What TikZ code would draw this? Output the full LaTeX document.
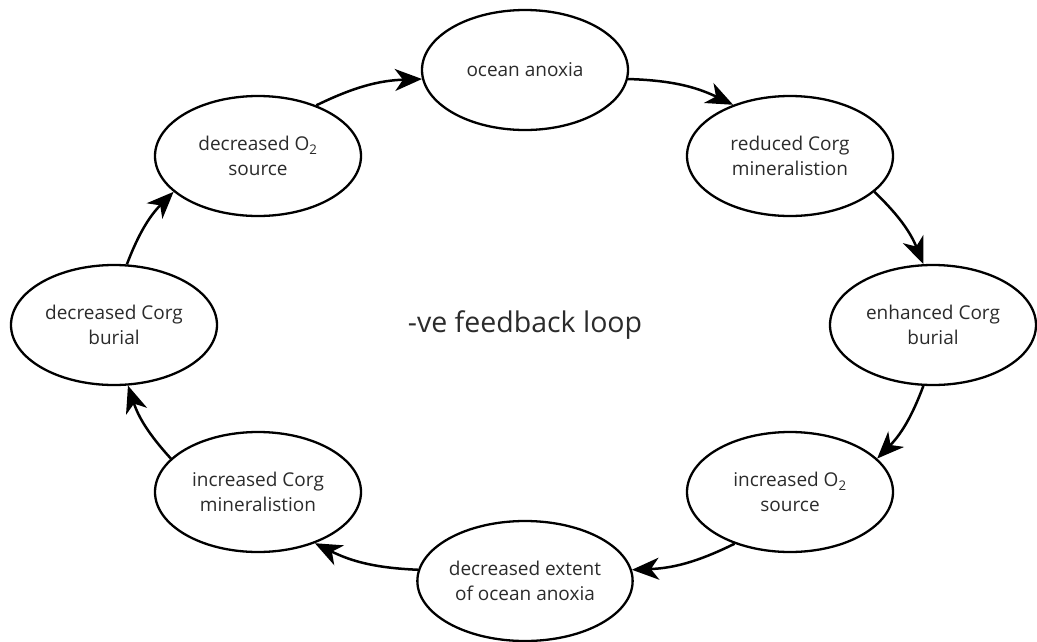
\documentclass[tikz,border=0pt]{standalone}
\usepackage{fontspec}
\setmainfont{Open Sans}
\usetikzlibrary{arrows.meta,shapes.geometric}
\definecolor{txt}{HTML}{2B2B2B}
\begin{document}
\begin{tikzpicture}[x=1pt,y=1pt,
  el/.style={ellipse, draw, line width=2.3pt, minimum width=206pt, minimum height=120pt,
    inner sep=0pt, align=center, text=txt, font=\fontsize{19}{25}\selectfont},
  arr/.style={-{Stealth[length=27pt,width=22pt,inset=8pt]}, line width=2.5pt},
  bl/.style={bend left=12}]
\useasboundingbox (0,0) rectangle (1037,-641);
\node[el] (oa)  at (525,-70)  {ocean anoxia};
\node[el] (rcm) at (790,-156) {reduced Corg\\mineralistion};
\node[el] (ecb) at (933,-325) {enhanced Corg\\burial};
\node[el] (io)  at (790,-492) {increased O\textsubscript{2}\\source};
\node[el] (de)  at (525,-581) {decreased extent\\of ocean anoxia};
\node[el] (icm) at (258,-492) {increased Corg\\mineralistion};
\node[el] (dcb) at (114,-325) {decreased Corg\\burial};
\node[el] (do)  at (258,-156) {decreased O\textsubscript{2}\\source};
\node[text=txt, font=\fontsize{28.5}{32}\selectfont] (fb) at (525,-325) {-ve feedback loop};
\draw[arr] (do.41)   to[bl] (oa.185);
\draw[arr] (oa.355)  to[bl] (rcm.138);
\draw[arr] (rcm.337) to[bl] (ecb.99);
\draw[arr] (ecb.261) to[bl] (io.21);
\draw[arr] (io.223)  to[bl] (de.6);
\draw[arr] (de.174)  to[bl] (icm.318);
\draw[arr] (icm.159) to[bl] (dcb.283);
\draw[arr] (dcb.78)  to[bl] (do.203);
\end{tikzpicture}
\end{document}
